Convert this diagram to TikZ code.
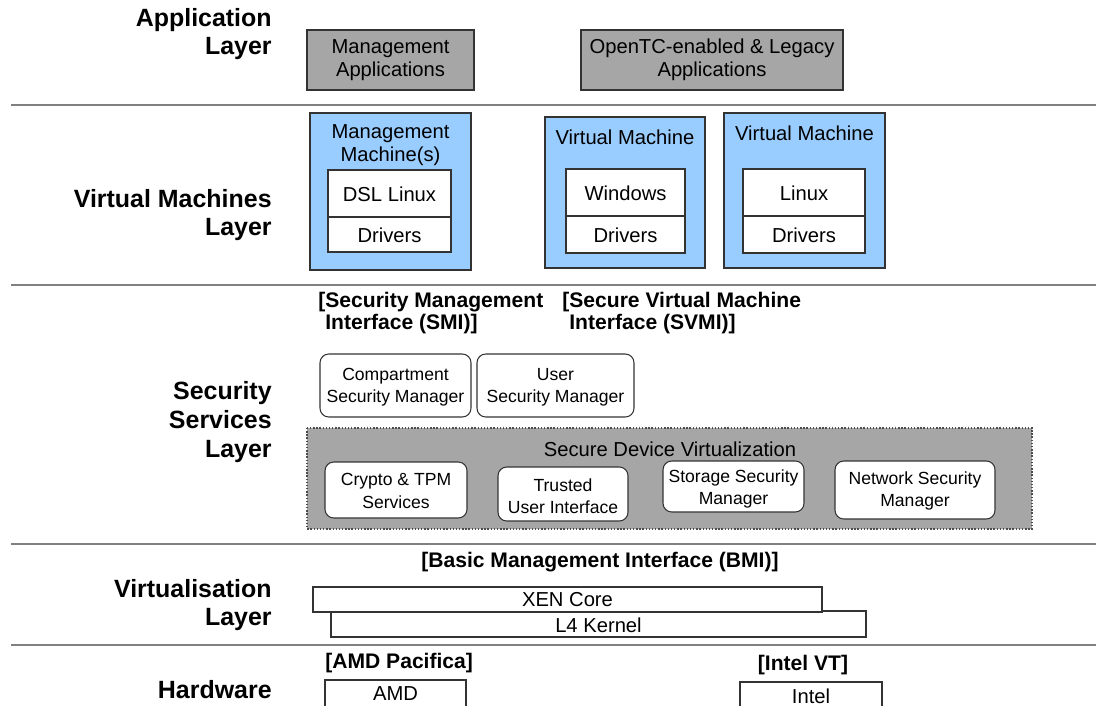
\documentclass[tikz,border=0pt]{standalone}
\usepackage{fontspec}
\setmainfont{Liberation Sans}
\definecolor{appgray}{HTML}{A6A6A6}
\definecolor{vmblue}{HTML}{99CCFF}
\definecolor{sepgray}{HTML}{808080}

\begin{document}
\begin{tikzpicture}[x=0.02cm,y=-0.02cm,
  layer/.style={font=\fontsize{14.2}{16.4}\selectfont\bfseries, align=right, anchor=east, inner sep=0pt},
  iface/.style={font=\fontsize{12}{12.6}\selectfont\bfseries, align=left, inner sep=0pt},
  txt/.style={font=\fontsize{11.5}{13}\selectfont, align=center, inner sep=0pt},
  smalltxt/.style={font=\fontsize{10}{12.6}\selectfont, align=center, inner sep=0pt},
  sep/.style={draw=sepgray, line width=1.2pt},
  box/.style={draw=black!80, line width=0.6pt},
  rbox/.style={box, fill=white, rounded corners=5pt}]
  \useasboundingbox (0,0) rectangle (1096,706);
  \clip (0,0) rectangle (1096,706);

  % layer separators
  \draw[sep] (11,105) -- (1096,105);
  \draw[sep] (11,285) -- (1096,285);
  \draw[sep] (11,544) -- (1096,544);
  \draw[sep] (11,645) -- (1096,645);

  % layer labels
  \node[layer] (lapp) at (272,34) {Application\\Layer};
  \node[layer] (lvm) at (272,215) {Virtual Machines\\Layer};
  \node[layer] (lsec) at (272,422) {Security\\Services\\Layer};
  \node[layer] (lvirt) at (272,605) {Virtualisation\\Layer};
  \node[layer] (lhw) at (272,690) {Hardware};

  % application layer
  \draw[box, fill=appgray] (307,30) rectangle (474,90);
  \node[txt] (mgmtapp) at (390.5,60) {Management\\Applications};
  \draw[box, fill=appgray] (581,30) rectangle (843,90);
  \node[txt] (legacy) at (712,60) {OpenTC-enabled \& Legacy\\Applications};

  % virtual machines layer
  \draw[box, fill=vmblue] (310,113) rectangle (471,270);
  \node[txt] (mm) at (390.5,145) {Management\\Machine(s)};
  \draw[box, fill=white] (328,170) rectangle (451,217);
  \draw[box, fill=white] (328,217) rectangle (451,252);
  \node[txt] (dsl) at (389.5,194) {DSL Linux};
  \node[txt] (drv1) at (389.5,235) {Drivers};

  \draw[box, fill=vmblue] (545,117) rectangle (705,268);
  \node[txt] (vm1) at (625,137) {Virtual Machine};
  \draw[box, fill=white] (566,169) rectangle (685,216);
  \draw[box, fill=white] (566,216) rectangle (685,253);
  \node[txt] (win) at (625.5,193) {Windows};
  \node[txt] (drv2) at (625.5,235) {Drivers};

  \draw[box, fill=vmblue] (724,113) rectangle (885,268);
  \node[txt] (vm2) at (804.5,133) {Virtual Machine};
  \draw[box, fill=white] (743,169) rectangle (865,216);
  \draw[box, fill=white] (743,216) rectangle (865,253);
  \node[txt] (lnx) at (804,193) {Linux};
  \node[txt] (drv3) at (804,235) {Drivers};

  % security services layer
  \node[iface, anchor=west] (smi) at (318,313) {[Security Management\\\phantom{[}Interface (SMI)]};
  \node[iface, anchor=west] (svmi) at (562,313) {[Secure Virtual Machine\\\phantom{[}Interface (SVMI)]};

  \draw[rbox] (320,354) rectangle (471,417);
  \node[smalltxt] (csm) at (395.5,387) {Compartment\\Security Manager};
  \draw[rbox] (477,354) rectangle (634,417);
  \node[smalltxt] (usm) at (555.5,387) {User\\Security Manager};

  \draw[draw=black!70, densely dotted, line width=0.8pt, fill=appgray] (307,428) rectangle (1032,529);
  \node[txt] (sdv) at (670,449) {Secure Device Virtualization};
  \draw[rbox] (325,462) rectangle (467,518);
  \node[smalltxt] (crypto) at (396,491) {Crypto \& TPM\\Services};
  \draw[rbox] (498,467) rectangle (628,521);
  \node[smalltxt] (tui) at (563,496) {Trusted\\User Interface};
  \draw[rbox] (663,461) rectangle (804,512);
  \node[smalltxt] (ssm) at (733.5,489) {Storage Security\\Manager};
  \draw[rbox] (835,461) rectangle (995,519);
  \node[smalltxt] (nsm) at (915,491) {Network Security\\Manager};

  % virtualisation layer
  \node[iface] (bmi) at (600,562) {[Basic Management Interface (BMI)]};
  \draw[box, fill=white] (331,611) rectangle (866,637);
  \node[txt] (l4) at (598.5,625) {L4 Kernel};
  \draw[box, fill=white] (313,587) rectangle (822,612);
  \node[txt] (xen) at (567.5,600) {XEN Core};

  % hardware
  \node[iface, anchor=west] (pacifica) at (325,663) {[AMD Pacifica]};
  \draw[box, fill=white] (325,680) rectangle (466,730);
  \node[txt] (amd) at (395.5,694) {AMD};
  \node[iface] (vt) at (803,665) {[Intel VT]};
  \draw[box, fill=white] (740,682) rectangle (882,730);
  \node[txt] (intel) at (811,696) {Intel};
\end{tikzpicture}
\end{document}
